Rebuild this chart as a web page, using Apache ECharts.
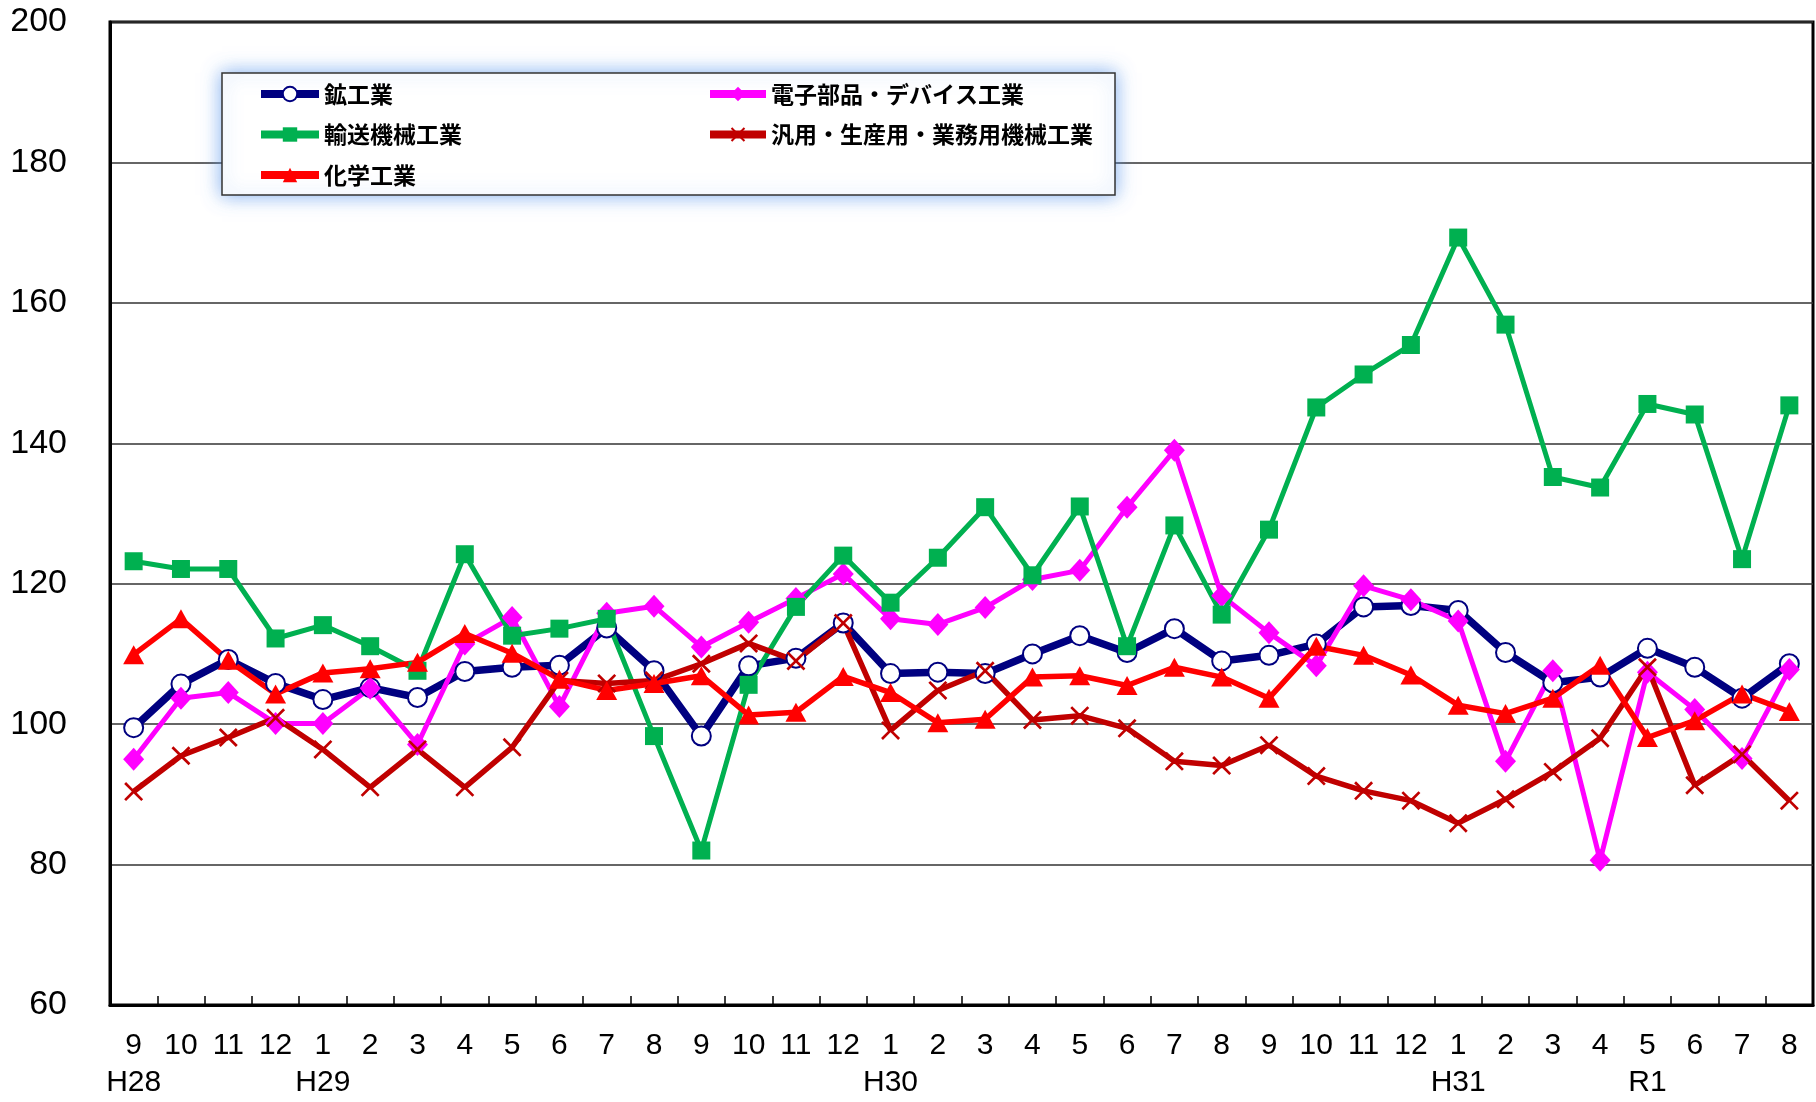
<!DOCTYPE html>
<html>
<head>
<meta charset="utf-8">
<title>鉱工業指数</title>
<script src="https://cdn.jsdelivr.net/npm/echarts@6/dist/echarts.min.js"></script>
<style>
  html, body { margin: 0; padding: 0; background: #fff; }
  #container { width: 1816px; height: 1102px; }
</style>
</head>
<body>
<div id="container"></div>
<script type="text/javascript">
// 月（H28.9 ～ R1.8）
var months = ['9','10','11','12','1','2','3','4','5','6','7','8',
              '9','10','11','12','1','2','3','4','5','6','7','8',
              '9','10','11','12','1','2','3','4','5','6','7','8'];
var eras = ['H28','','','','H29','','','','','','','',
            '','','','','H30','','','','','','','',
            '','','','','H31','','','','R1','','',''];

var kokogyo = [99.5, 105.7, 109.2, 105.8, 103.5, 105.2, 103.8, 107.5, 108.1, 108.4, 113.7, 107.6,
               98.3, 108.3, 109.4, 114.4, 107.2, 107.4, 107.2, 110.0, 112.6, 110.2, 113.6, 109.0,
               109.8, 111.4, 116.7, 116.9, 116.2, 110.2, 105.9, 106.7, 110.8, 108.1, 103.7, 108.6];
var denshi = [95.0, 103.7, 104.5, 100.1, 100.1, 105.1, 97.1, 111.4, 115.2, 102.5, 115.8, 116.8,
              111.0, 114.5, 117.9, 121.4, 115.0, 114.2, 116.6, 120.6, 121.9, 130.9, 139.0, 118.3,
              113.0, 108.3, 119.7, 117.7, 114.7, 94.7, 107.6, 80.6, 107.4, 102.1, 95.1, 107.8];
var yuso = [123.2, 122.1, 122.1, 112.2, 114.1, 111.1, 107.6, 124.2, 112.6, 113.6, 115.0, 98.3,
            82.0, 105.6, 116.7, 124.0, 117.3, 123.7, 130.9, 121.2, 131.0, 111.1, 128.3, 115.6,
            127.7, 145.1, 149.8, 154.0, 169.3, 156.9, 135.2, 133.7, 145.6, 144.1, 123.5, 145.4];
var hanyo = [90.4, 95.5, 98.1, 100.9, 96.4, 91.0, 96.4, 91.0, 96.7, 106.2, 105.8, 106.2,
             108.6, 111.5, 109.0, 114.4, 99.1, 104.8, 107.6, 100.6, 101.2, 99.4, 94.7, 94.1,
             97.0, 92.6, 90.5, 89.1, 85.9, 89.3, 93.2, 98.0, 108.1, 91.3, 95.7, 89.1];
var kagaku = [109.9, 115.0, 109.1, 104.3, 107.3, 107.9, 108.8, 112.9, 110.1, 106.4, 104.8, 105.8,
              106.9, 101.3, 101.7, 106.8, 104.5, 100.2, 100.7, 106.7, 106.9, 105.5, 108.1, 106.7,
              103.7, 111.1, 109.8, 107.0, 102.7, 101.5, 103.7, 108.4, 98.1, 100.5, 104.3, 101.8];

var crossIcon = 'path://M0,1L1,0L5,4L9,0L10,1L6,5L10,9L9,10L5,6L1,10L0,9L4,5Z';

var dom = document.getElementById('container');
var myChart = echarts.init(dom);

var legendText = {
    fontFamily: 'Noto Sans CJK JP',
    fontSize: 23,
    fontWeight: 'bold',
    color: '#000',
    lineHeight: 24
};

var option = {
    animation: false,
    backgroundColor: '#fff',
    grid: {
        left: 110,
        right: 3,
        top: 22,
        bottom: 97,
        show: true,
        borderColor: '#000',
        borderWidth: 3
    },
    graphic: [{
        type: 'rect',
        z: 5,
        shape: { x: 222, y: 73, width: 893, height: 122 },
        style: {
            fill: '#fff',
            stroke: '#333',
            lineWidth: 1.5,
            shadowBlur: 18,
            shadowColor: 'rgba(90,150,235,0.75)'
        }
    }],
    legend: [{
        z: 10,
        orient: 'vertical',
        left: 257,
        top: 82,
        padding: 0,
        itemWidth: 58,
        itemHeight: 18,
        itemGap: 16.5,
        lineStyle: { width: 8 },
        textStyle: legendText,
        data: ['鉱工業', '輸送機械工業', '化学工業']
    }, {
        z: 10,
        orient: 'vertical',
        left: 706,
        top: 82,
        padding: 0,
        itemWidth: 56,
        itemHeight: 18,
        itemGap: 16.5,
        lineStyle: { width: 8 },
        textStyle: legendText,
        data: ['電子部品・デバイス工業', '汎用・生産用・業務用機械工業']
    }],
    xAxis: {
        type: 'category',
        data: months,
        boundaryGap: true,
        axisLine: { show: true, lineStyle: { color: '#000', width: 3 } },
        axisTick: { show: true, inside: true, length: 9, lineStyle: { color: '#000', width: 1.5 } },
        axisLabel: {
            interval: 0,
            margin: 22,
            fontFamily: 'Liberation Sans',
            fontSize: 30,
            lineHeight: 37,
            color: '#000',
            formatter: function (v, i) { return v + '\n' + eras[i]; }
        },
        splitLine: { show: false }
    },
    yAxis: {
        type: 'value',
        min: 60,
        max: 200,
        interval: 20,
        axisLine: { show: true, lineStyle: { color: '#000', width: 3 } },
        axisTick: { show: false },
        axisLabel: {
            margin: 43,
            fontFamily: 'Liberation Sans',
            fontSize: 34,
            color: '#000'
        },
        splitLine: { show: true, lineStyle: { color: '#333', width: 1.5 } }
    },
    series: [
        {
            name: '鉱工業',
            type: 'line',
            data: kokogyo,
            symbol: 'circle',
            symbolSize: 19,
            lineStyle: { color: '#000080', width: 7.5 },
            itemStyle: { color: '#fff', borderColor: '#000080', borderWidth: 2 }
        },
        {
            name: '電子部品・デバイス工業',
            type: 'line',
            data: denshi,
            symbol: 'diamond',
            symbolSize: [21, 23],
            lineStyle: { color: '#FF00FF', width: 5 },
            itemStyle: { color: '#FF00FF' }
        },
        {
            name: '輸送機械工業',
            type: 'line',
            data: yuso,
            symbol: 'rect',
            symbolSize: 18,
            lineStyle: { color: '#00B050', width: 5 },
            itemStyle: { color: '#00B050' }
        },
        {
            name: '汎用・生産用・業務用機械工業',
            type: 'line',
            data: hanyo,
            symbol: crossIcon,
            symbolSize: 19,
            lineStyle: { color: '#C00000', width: 5.5 },
            itemStyle: { color: '#C00000' }
        },
        {
            name: '化学工業',
            type: 'line',
            data: kagaku,
            symbol: 'triangle',
            symbolSize: [21, 19],
            lineStyle: { color: '#FF0000', width: 5.5 },
            itemStyle: { color: '#FF0000' }
        }
    ]
};

myChart.setOption(option, true);
</script>
</body>
</html>
